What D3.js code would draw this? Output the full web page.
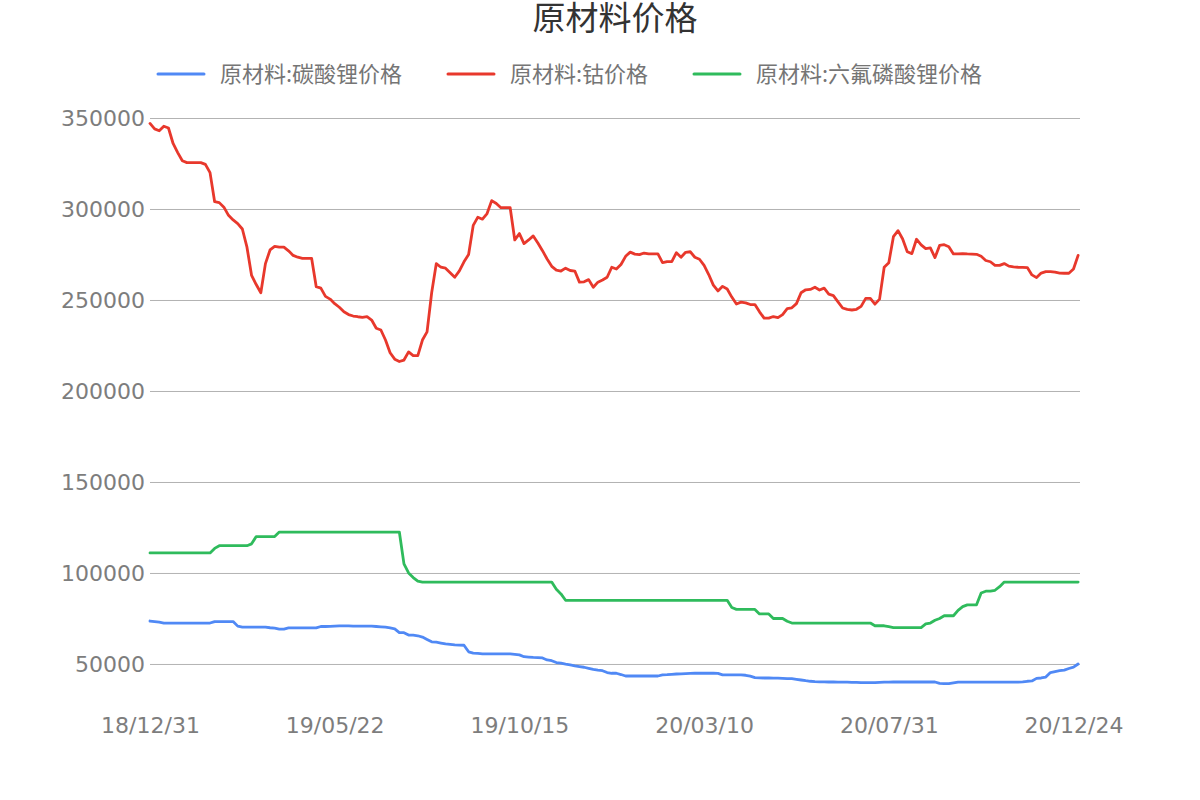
<!DOCTYPE html>
<html><head><meta charset="utf-8">
<script src="https://cdn.jsdelivr.net/npm/d3@7"></script>
<style>
html,body{margin:0;padding:0;background:#fff;}
svg{display:block;font-family:"DejaVu Sans","Noto Sans CJK SC",sans-serif;}
</style></head>
<body><svg id="c" width="1200" height="800"></svg>
<script>
const title = "原材料价格";
const seriesNames = ["原材料:碳酸锂价格", "原材料:钴价格", "原材料:六氟磷酸锂价格"];
const seriesColors = ["#5089f5", "#e8382c", "#2fbb5c"];
const tickLabels = ["18/12/31","19/05/22","19/10/15","20/03/10","20/07/31","20/12/24"];
const tickIndex = [0, 40, 80, 120, 160, 200];
const yTicks = [50000,100000,150000,200000,250000,300000,350000];

const lithiumCarbonate = [
73600,73300,73000,72500,72500,72500,72500,72500,72500,72500,
72500,72500,72500,72500,73300,73300,73300,73300,73300,70800,
70300,70300,70200,70200,70200,70200,69900,69700,69200,69200,
69800,69800,69800,69800,69800,69800,69800,70600,70600,70700,
70800,70900,70900,70900,70800,70800,70800,70800,70800,70600,
70400,70200,69800,69300,67200,67200,65900,65800,65500,64800,
63500,62200,62000,61500,61000,60800,60500,60400,60300,56700,
56000,55800,55600,55600,55600,55600,55600,55500,55500,55300,
55000,54000,53800,53600,53500,53300,52200,51800,50800,50500,
49900,49500,49000,48600,48200,47600,47000,46600,46300,45300,
44900,44900,44200,43400,43400,43400,43400,43400,43400,43400,
43400,44000,44100,44300,44500,44600,44700,44800,44900,44900,
44900,44900,44900,44800,44000,44000,44000,44000,44000,43800,
43300,42500,42400,42300,42300,42200,42200,42100,42000,41900,
41600,41200,40800,40500,40300,40200,40200,40100,40100,40000,
40000,40000,39900,39900,39800,39800,39800,39800,39900,40000,
40000,40100,40100,40100,40100,40100,40100,40100,40100,40100,
40100,39300,39200,39200,39600,40000,40000,40000,40000,40000,
40000,40000,40000,40000,40000,40000,40000,40000,40000,40200,
40500,40700,42100,42300,42800,45300,45800,46300,46600,47500,
48300,50000];

const cobalt = [
347000,344000,343000,345500,344500,336000,331000,326500,325500,325500,
325500,325500,324500,320000,304000,303500,301000,296500,294000,292000,
289000,279000,263500,258500,254000,270000,277500,279500,279000,279000,
277000,274500,273500,272900,272900,272900,257300,256500,252000,250500,
248000,246000,243500,242000,241200,240800,240500,240900,239000,234500,
233500,228000,221000,217500,216200,217000,221500,219400,219400,228000,
232500,254000,270000,268000,267500,265000,262500,266000,271000,275000,
291000,295500,294400,297500,304600,303000,300700,300700,300700,283000,
286500,281000,283000,285200,281300,277100,272500,268500,266400,265900,
267500,266200,265900,259800,260000,261200,257000,259800,261000,262500,
268000,267000,269500,274000,276300,275200,274900,275800,275300,275300,
275300,270500,271100,271100,276000,273500,276200,276500,273500,272400,
269000,264000,258200,255000,257500,256000,251600,247800,248800,248400,
247500,247500,243500,240000,240000,240900,240300,242000,245300,245700,
248000,254000,255600,255800,257000,255500,256500,253200,252400,249000,
245600,244800,244500,244900,246500,250900,250900,247700,250500,268000,
270500,284800,288100,283500,276500,275500,283400,280300,278200,278600,
273300,280000,280400,279300,275300,275300,275500,275300,275200,275100,
274000,271700,271000,269000,269000,270000,268600,268200,268000,267900,
267800,263800,262300,264800,265600,265600,265300,264800,264700,264700,
267000,274500];

const lithiumHexafluorophosphate = [
111000,111000,111000,111000,111000,111000,111000,111000,111000,111000,
111000,111000,111000,111000,113500,115000,115000,115000,115000,115000,
115000,115000,116000,120000,120000,120000,120000,120000,122500,122500,
122500,122500,122500,122500,122500,122500,122500,122500,122500,122500,
122500,122500,122500,122500,122500,122500,122500,122500,122500,122500,
122500,122500,122500,122500,122500,105000,100000,97500,95500,95000,
95000,95000,95000,95000,95000,95000,95000,95000,95000,95000,
95000,95000,95000,95000,95000,95000,95000,95000,95000,95000,
95000,95000,95000,95000,95000,95000,95000,95000,91000,88500,
85000,85000,85000,85000,85000,85000,85000,85000,85000,85000,
85000,85000,85000,85000,85000,85000,85000,85000,85000,85000,
85000,85000,85000,85000,85000,85000,85000,85000,85000,85000,
85000,85000,85000,85000,85000,85000,81000,80000,80000,80000,
80000,80000,77500,77500,77500,75000,75000,75000,73500,72500,
72500,72500,72500,72500,72500,72500,72500,72500,72500,72500,
72500,72500,72500,72500,72500,72500,72500,71000,71000,71000,
70500,70000,70000,70000,70000,70000,70000,70000,72000,72500,
74000,75000,76500,76500,76500,79500,81500,82500,82500,82500,
89000,90000,90000,90500,92500,95000,95000,95000,95000,95000,
95000,95000,95000,95000,95000,95000,95000,95000,95000,95000,
95000,95000];

const allSeries = [lithiumCarbonate, cobalt, lithiumHexafluorophosphate];

const svg = d3.select("#c");
const left = 150, right = 1080;
const n = cobalt.length;
const x = d3.scaleLinear().domain([0, n - 1]).range([left, left + (n - 1) * 4.6175]);
const y = d3.scaleLinear().domain([39000, 350000]).range([684, 118]);

// title
svg.append("text").attr("x", (left + right) / 2).attr("y", 30)
  .attr("text-anchor", "middle").attr("font-size", 33).attr("fill", "#333")
  .attr("font-family", "'Noto Sans CJK SC', sans-serif")
  .text(title);

// grid lines and y labels
const yAxis = d3.axisLeft(y).tickValues(yTicks).tickSize(-(right - left)).tickPadding(5)
  .tickFormat(d3.format("d"));
const gy = svg.append("g").attr("transform", `translate(${left},0)`).call(yAxis);
gy.select(".domain").remove();
gy.selectAll(".tick line").attr("stroke", "#b3b3b3").attr("stroke-width", 1);
gy.selectAll(".tick text").attr("fill", "#7d7d7d").attr("font-size", 22)
  .attr("font-family", "'DejaVu Sans', sans-serif");

// x axis labels
const xAxis = d3.axisBottom(x).tickValues(tickIndex).tickSize(0).tickPadding(0)
  .tickFormat((d, i) => tickLabels[i]);
const gx = svg.append("g").attr("transform", "translate(0,717)").call(xAxis);
gx.select(".domain").remove();
gx.selectAll(".tick text").attr("fill", "#7d7d7d").attr("font-size", 22)
  .attr("font-family", "'DejaVu Sans', sans-serif").attr("dy", "0.71em");

// lines
const line = d3.line().x((d, i) => x(i)).y(d => y(d)).curve(d3.curveLinear);
allSeries.forEach((s, k) => {
  svg.append("path").datum(s).attr("d", line).attr("fill", "none")
    .attr("stroke", seriesColors[k]).attr("stroke-width", 2.8)
    .attr("stroke-linejoin", "round").attr("stroke-linecap", "round");
});

// legend
const legendX = [158, 448, 694];
seriesNames.forEach((name, k) => {
  const g = svg.append("g").attr("transform", `translate(${legendX[k]},74)`);
  g.append("line").attr("x1", 0).attr("x2", 46).attr("y1", 0).attr("y2", 0)
    .attr("stroke", seriesColors[k]).attr("stroke-width", 3).attr("stroke-linecap", "round");
  g.append("text").attr("x", 62).attr("y", 8).attr("font-size", 22).attr("fill", "#757575")
    .attr("font-family", "'Noto Sans CJK SC', sans-serif").text(name);
});
</script></body></html>
